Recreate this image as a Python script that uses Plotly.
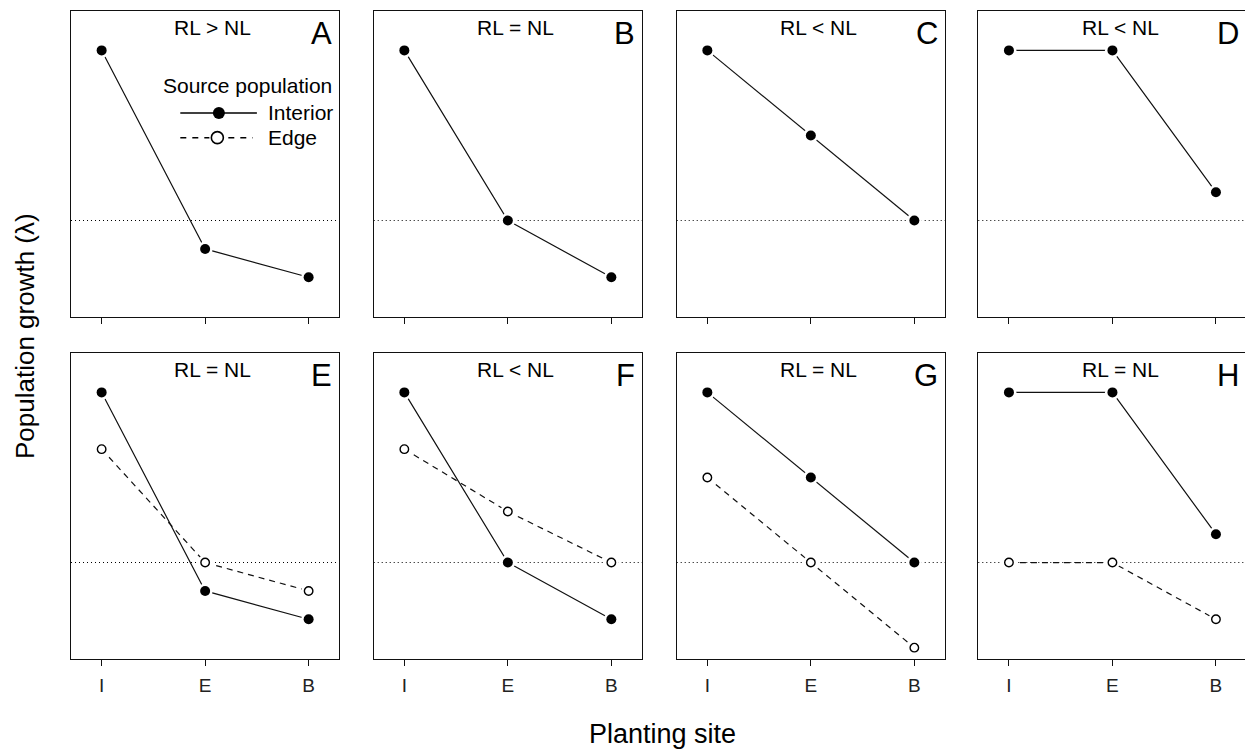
import plotly.graph_objects as go

# ---------------- data ----------------
sites = ["I", "E", "B"]
panels = ["A", "B", "C", "D", "E", "F", "G", "H"]
headers = ["RL > NL", "RL = NL", "RL < NL", "RL < NL",
           "RL = NL", "RL < NL", "RL = NL", "RL = NL"]
ref_lambda = 1.0

interior_A = [1.6, 0.9, 0.8]
interior_B = [1.6, 1.0, 0.8]
interior_C = [1.6, 1.3, 1.0]
interior_D = [1.6, 1.6, 1.1]
interior_E = [1.6, 0.9, 0.8]
interior_F = [1.6, 1.0, 0.8]
interior_G = [1.6, 1.3, 1.0]
interior_H = [1.6, 1.6, 1.1]

edge_E = [1.4, 1.0, 0.9]
edge_F = [1.4, 1.18, 1.0]
edge_G = [1.3, 1.0, 0.7]
edge_H = [1.0, 1.0, 0.8]

interior = {"A": interior_A, "B": interior_B, "C": interior_C, "D": interior_D,
            "E": interior_E, "F": interior_F, "G": interior_G, "H": interior_H}
edge = {"E": edge_E, "F": edge_F, "G": edge_G, "H": edge_H}

# ---------------- layout geometry ----------------
W, H = 1245, 749
FONT = "Liberation Sans, Arial, Helvetica, sans-serif"
col_left = [71, 373.7, 676.7, 978.3]
panel_w = 268.3
row_top = [10.7, 352.7]
panel_h = 306.3
px_per_x = 103.5
x_lo = -0.296
y_range = [0.66, 1.74]
xpos = [0, 1, 2]

fig = go.Figure()
layout = dict(
    width=W, height=H, autosize=False,
    margin=dict(l=0, r=0, t=0, b=0),
    paper_bgcolor="white", plot_bgcolor="white",
    showlegend=False,
    font=dict(family=FONT, color="black"),
)
shapes = []
annotations = []

LINE_C = "#111111"
for i, p in enumerate(panels):
    r, c = divmod(i, 4)
    n = i + 1
    xs = "x" if n == 1 else f"x{n}"
    ys = "y" if n == 1 else f"y{n}"
    xname = "xaxis" if n == 1 else f"xaxis{n}"
    yname = "yaxis" if n == 1 else f"yaxis{n}"
    left_px = col_left[c]
    right_px = min(col_left[c] + panel_w, W)
    x_hi = x_lo + (right_px - left_px) / px_per_x
    layout[xname] = dict(
        domain=[left_px / W, right_px / W], anchor=ys,
        range=[x_lo, x_hi], tickmode="array", tickvals=xpos, ticktext=sites,
        showticklabels=(r == 1), ticks="outside", ticklen=6, tickwidth=1.3,
        tickcolor=LINE_C, showline=True, linewidth=1.3, linecolor=LINE_C,
        mirror=True, showgrid=False, zeroline=False,
        tickfont=dict(size=19, family=FONT, color="#222"),
        ticklabelstandoff=3,
    )
    layout[yname] = dict(
        domain=[1 - (row_top[r] + panel_h) / H, 1 - row_top[r] / H], anchor=xs,
        range=y_range, showticklabels=False, ticks="", showline=True,
        linewidth=1.3, linecolor=LINE_C, mirror=(c != 3),
        showgrid=False, zeroline=False,
    )
    # dotted reference line at lambda = 1
    shapes.append(dict(type="line", xref=f"{xs} domain", yref=ys, x0=0, x1=1,
                       y0=ref_lambda, y1=ref_lambda, layer="below",
                       line=dict(color="black", width=1.1, dash="1px,3px")))

    series = []
    if p in edge:
        series.append(("Edge", edge[p], "6px,5px", "white", 8.5))
    series.append(("Interior", interior[p], "solid", "black", 10))
    for name, vals, dash, fill, msize in series:
        fig.add_trace(go.Scatter(x=xpos, y=vals, xaxis=xs, yaxis=ys, mode="lines",
                                 name=name, line=dict(color=LINE_C, width=1.2, dash=dash),
                                 hoverinfo="skip"))
    for name, vals, dash, fill, msize in series:
        fig.add_trace(go.Scatter(x=xpos, y=vals, xaxis=xs, yaxis=ys, mode="markers",
                                 name=name, marker=dict(size=15, color="white", line=dict(width=0)),
                                 hoverinfo="skip"))
    for name, vals, dash, fill, msize in series:
        fig.add_trace(go.Scatter(x=xpos, y=vals, xaxis=xs, yaxis=ys, mode="markers",
                                 name=name,
                                 marker=dict(size=msize, color=fill, symbol="circle",
                                             line=dict(color="black", width=1.4 if fill == "white" else 0))))

    annotations.append(dict(x=1.075, y=1.68, xref=xs, yref=ys, text=headers[i],
                            xanchor="center", yanchor="middle",
                            showarrow=False, font=dict(size=21, family=FONT, color="black")))
    annotations.append(dict(x=2.245, y=1.66, xref=xs, yref=ys, text=p, xanchor="right",
                            yanchor="middle",
                            showarrow=False, font=dict(size=31, family=FONT, color="black")))

# legend in panel A (drawn manually, R style)
annotations.append(dict(x=1.41, y=1.4746, xref="x", yref="y", text="Source population",
                        xanchor="center", yanchor="middle",
                        showarrow=False, font=dict(size=21, family=FONT, color="black")))
annotations.append(dict(x=1.59, y=1.3794, xref="x", yref="y", text="Interior", xanchor="left",
                        yanchor="middle",
                        showarrow=False, font=dict(size=21, family=FONT, color="black")))
annotations.append(dict(x=1.59, y=1.2923, xref="x", yref="y", text="Edge", xanchor="left",
                        yanchor="middle",
                        showarrow=False, font=dict(size=21, family=FONT, color="black")))
shapes.append(dict(type="line", xref="x", yref="y", x0=0.76, x1=1.50, y0=1.3794, y1=1.3794,
                   line=dict(color="black", width=1.5)))
shapes.append(dict(type="circle", xref="x", yref="y", xsizemode="pixel", ysizemode="pixel",
                   xanchor=1.133, yanchor=1.3794, x0=-6, x1=6, y0=-6, y1=6,
                   fillcolor="black", line=dict(color="black", width=0)))
shapes.append(dict(type="line", xref="x", yref="y", x0=0.76, x1=1.46, y0=1.2923, y1=1.2923,
                   line=dict(color="black", width=1.5, dash="6px,6px")))
shapes.append(dict(type="circle", xref="x", yref="y", xsizemode="pixel", ysizemode="pixel",
                   xanchor=1.118, yanchor=1.2923, x0=-8, x1=8, y0=-8, y1=8,
                   fillcolor="white", line=dict(color="white", width=0)))
shapes.append(dict(type="circle", xref="x", yref="y", xsizemode="pixel", ysizemode="pixel",
                   xanchor=1.118, yanchor=1.2923, x0=-6, x1=6, y0=-6, y1=6,
                   fillcolor="white", line=dict(color="black", width=1.6)))

# axis titles
annotations.append(dict(x=662 / W, y=1 - 734 / H, xref="paper", yref="paper",
                        xanchor="center", yanchor="middle",
                        text="Planting site", showarrow=False,
                        font=dict(size=27, family=FONT, color="black")))
annotations.append(dict(x=25 / W, y=1 - 336 / H, xref="paper", yref="paper",
                        xanchor="center", yanchor="middle",
                        text="Population growth (λ)", showarrow=False, textangle=-90,
                        font=dict(size=26, family=FONT, color="black")))

layout["shapes"] = shapes
layout["annotations"] = annotations
fig.update_layout(**layout)
fig.write_html(
    "out.html",
    config={"displayModeBar": False},
    post_script="document.body.style.margin='0';document.body.style.overflow='hidden';",
)
